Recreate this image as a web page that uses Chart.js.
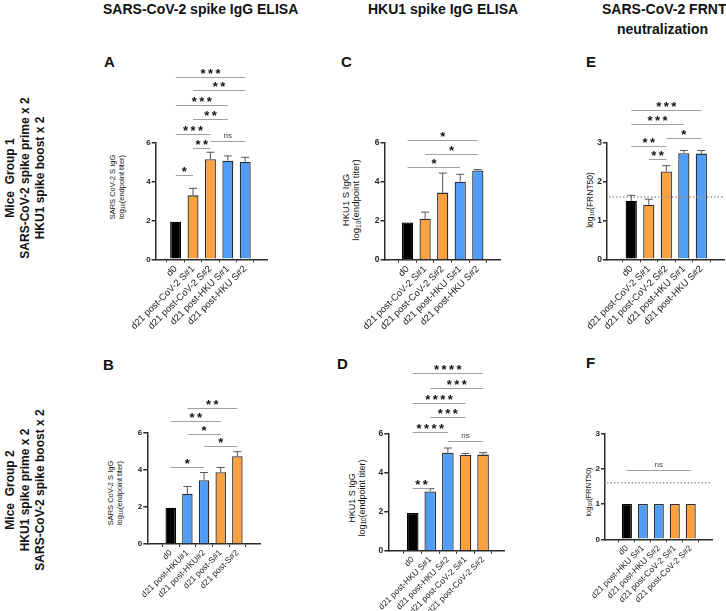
<!DOCTYPE html>
<html>
<head>
<meta charset="utf-8">
<script src="https://cdn.jsdelivr.net/npm/chart.js@4.4.1/dist/chart.umd.min.js"></script>
<style>
  html, body { margin: 0; padding: 0; background: #fff; overflow: hidden; }
  body { width: 726px; height: 611px; position: relative; font-family: 'Liberation Sans', Arial, sans-serif; color: #111; }
  canvas.panel { position: absolute; }
  .col-title { position: absolute; font-weight: bold; font-size: 14px; line-height: 14px; white-space: nowrap; }
  .letter { position: absolute; font-weight: bold; font-size: 15px; line-height: 15px; }
  .row-label { position: absolute; font-weight: bold; font-size: 12px; line-height: 15px; text-align: center; white-space: nowrap; transform: translate(-50%, -50%) rotate(-90deg); }
  .y-title { position: absolute; text-align: center; white-space: nowrap; color: #111; transform: translate(-50%, -50%) rotate(-90deg); }
  .y-title sub { font-size: 0.7em; line-height: 0; vertical-align: -0.25em; }
</style>
</head>
<body>

<div class="col-title" style="left:103px; top:2px;">SARS-CoV-2 spike IgG ELISA</div>
<div class="col-title" style="left:368px; top:2px;">HKU1 spike IgG ELISA</div>
<div class="col-title" style="left:602px; top:2px;">SARS-CoV-2 FRNT</div>
<div class="col-title" style="left:617px; top:22px;">neutralization</div>

<div class="letter" style="left:104px; top:54px;">A</div>
<div class="letter" style="left:341px; top:54px;">C</div>
<div class="letter" style="left:586px; top:54px;">E</div>
<div class="letter" style="left:103px; top:357px;">B</div>
<div class="letter" style="left:337px; top:356px;">D</div>
<div class="letter" style="left:586px; top:355px;">F</div>

<div class="row-label" style="left:25px; top:178px;">Mice&nbsp; Group 1<br>SARS-CoV-2 spike prime x 2<br>HKU1 spike boost x 2</div>
<div class="row-label" style="left:25px; top:490px;">Mice&nbsp; Group 2<br>HKU1 spike prime x 2<br>SARS-CoV-2 spike boost x 2</div>

<div class="y-title" style="left:117px; top:187px; font-size:7.5px; line-height:8.5px;">SARS CoV-2 S IgG<br>log<sub>10</sub>(endpoint titer)</div>
<div class="y-title" style="left:350.5px; top:200px; font-size:9.5px; line-height:10px;">HKU1 S IgG<br>log<sub>10</sub>(endpoint titer)</div>
<div class="y-title" style="left:590px; top:200px; font-size:8.5px; line-height:9px;">log<sub>10</sub>(FRNT50)</div>
<div class="y-title" style="left:115px; top:493px; font-size:7.5px; line-height:9px;">SARS CoV-2 S IgG<br>log<sub>10</sub>(endpoint titer)</div>
<div class="y-title" style="left:357px; top:498px; font-size:9px; line-height:9.5px;">HKU1 S IgG<br>log<sub>10</sub>(endpoint titer)</div>
<div class="y-title" style="left:588.5px; top:492px; font-size:7.5px; line-height:8px;">log<sub>10</sub>(FRNT50)</div>

<script>
// ---- data ----
const labelsGroup1 = ['d0', 'd21 post-CoV-2 S#1', 'd21 post-CoV-2 S#2', 'd21 post-HKU S#1', 'd21 post-HKU S#2'];
const labelsPanelB = ['d0', 'd21 post-HKU#1', 'd21 post-HKU#2', 'd21 post-S#1', 'd21 post-S#2'];
const labelsGroup2 = ['d0', 'd21 post-HKU S#1', 'd21 post-HKU S#2', 'd21 post-CoV-2 S#1', 'd21 post-CoV-2 S#2'];

const BLACK = '#000000';
const ORANGE = '#FDA13F';
const BLUE = '#4F9DF7';
const colorsGroup1 = [BLACK, ORANGE, ORANGE, BLUE, BLUE];
const colorsGroup2 = [BLACK, BLUE, BLUE, ORANGE, ORANGE];

// mean log10 values and upper error (SEM) per bar
const valuesA = [1.93, 3.28, 5.13, 5.06, 5.00];
const errorsA = [0, 0.36, 0.36, 0.24, 0.23];
const valuesC = [1.91, 2.10, 3.44, 4.00, 4.58];
const errorsC = [0, 0.34, 1.00, 0.38, 0.04];
const valuesE = [1.50, 1.40, 2.25, 2.72, 2.71];
const errorsE = [0.14, 0.14, 0.15, 0.07, 0.08];
const valuesB = [1.95, 2.70, 3.43, 3.86, 4.71];
const errorsB = [0, 0.39, 0.41, 0.25, 0.25];
const valuesD = [1.94, 3.05, 5.03, 4.92, 4.94];
const errorsD = [0, 0.14, 0.25, 0.08, 0.10];
const valuesF = [1, 1, 1, 1, 1];
const errorsF = [0, 0, 0, 0, 0];

// detection limit (log10 FRNT50)
const limitFRNT = 1.6;

// significance brackets: [from bar, to bar, label, height in y units]
const sigA = [[0, 1, '*', 4.32], [1, 2, '**', 5.69], [2, 4, 'ns', 6.07], [0, 2, '***', 6.44],
              [1, 3, '**', 7.19], [0, 3, '***', 7.90], [1, 4, '**', 8.67], [0, 4, '***', 9.36]];
const sigC = [[0, 3, '*', 4.74], [1, 4, '*', 5.40], [0, 4, '*', 6.12]];
const sigE = [[1, 2, '**', 2.56], [0, 2, '**', 2.91], [2, 4, '*', 3.10], [0, 3, '***', 3.46], [0, 4, '***', 3.83]];
const sigB = [[0, 2, '*', 4.16], [2, 4, '*', 5.25], [1, 3, '*', 5.93], [0, 3, '**', 6.63], [1, 4, '**', 7.32]];
const sigD = [[0, 1, '**', 3.24], [2, 4, 'ns', 5.62], [0, 2, '****', 6.10], [1, 3, '***', 6.86],
              [0, 3, '****', 7.59], [1, 4, '***', 8.35], [0, 4, '****', 9.14]];
const sigF = [[0, 4, 'ns', 1.95]];

// ---- drawing ----
const FONT = "'Liberation Sans', Arial, sans-serif";
const AXIS = '#2b2b2b';
const Y_W = 30;

function extrasPlugin(p) {
    return {
        id: 'extras',
        afterDatasetsDraw(chart) {
            const { ctx, chartArea } = chart;
            const xs = chart.scales.x;
            const ys = chart.scales.y;
            ctx.save();

            if (p.limit !== undefined) {
                const y = ys.getPixelForValue(p.limit);
                ctx.strokeStyle = '#9a9a9a';
                ctx.lineWidth = 1.5;
                ctx.setLineDash([1.5, 2]);
                ctx.beginPath();
                ctx.moveTo(chartArea.left + 2, y);
                ctx.lineTo(chartArea.right, y);
                ctx.stroke();
                ctx.setLineDash([]);
            }

            ctx.strokeStyle = '#555';
            ctx.lineWidth = 1;
            p.errors.forEach((e, i) => {
                if (!e) return;
                const x = xs.getPixelForValue(i);
                const y0 = ys.getPixelForValue(p.values[i]);
                const y1 = ys.getPixelForValue(p.values[i] + e);
                ctx.beginPath();
                ctx.moveTo(x, y0);
                ctx.lineTo(x, y1);
                ctx.moveTo(x - 4, y1);
                ctx.lineTo(x + 4, y1);
                ctx.stroke();
            });

            p.sig.forEach(([a, b, label, h]) => {
                const x1 = xs.getPixelForValue(a);
                const x2 = xs.getPixelForValue(b);
                const y = Math.round(ys.getPixelForValue(h)) + 0.5;
                ctx.strokeStyle = '#a0a0a0';
                ctx.lineWidth = 1;
                ctx.beginPath();
                ctx.moveTo(x1, y);
                ctx.lineTo(x2, y);
                ctx.stroke();

                const cx = (x1 + x2) / 2;
                ctx.textAlign = 'center';
                ctx.textBaseline = 'alphabetic';
                if (label === 'ns') {
                    ctx.fillStyle = '#444';
                    ctx.font = `8px ${FONT}`;
                    ctx.fillText(label, cx, y - 3.5);
                } else {
                    ctx.fillStyle = '#111';
                    ctx.font = `bold 13px ${FONT}`;
                    const n = label.length;
                    for (let k = 0; k < n; k++) {
                        ctx.fillText('*', cx + (k - (n - 1) / 2) * 7.5, y + 0.5);
                    }
                }
            });
            ctx.restore();
        }
    };
}

function buildPanel(p) {
    const [bx, by, bw, bh] = p.box;
    const canvas = document.createElement('canvas');
    canvas.className = 'panel';
    canvas.width = bw;
    canvas.height = bh;
    canvas.style.left = bx + 'px';
    canvas.style.top = by + 'px';
    document.body.appendChild(canvas);

    const n = p.labels.length;
    const spacing = (p.lastCenter - p.firstCenter) / (n - 1);
    const xMin = -(p.firstCenter - p.axisX) / spacing;
    const xMax = (p.axisEnd - p.firstCenter) / spacing;
    // x scale takes all room under the plot so rotated labels are not clipped
    const xH = by + bh - p.yZeroPx;

    new Chart(canvas, {
        type: 'bar',
        data: {
            datasets: [{
                data: p.values.map((v, i) => ({ x: i, y: v })),
                backgroundColor: p.colors,
                borderColor: p.colors.map(c => c === BLACK ? BLACK : '#2e2e2e'),
                borderWidth: 1.3,
                barPercentage: p.barFrac,
                categoryPercentage: 1
            }]
        },
        options: {
            responsive: false,
            animation: false,
            events: [],
            layout: {
                autoPadding: false,
                padding: {
                    left: p.axisX - bx - Y_W,
                    right: bx + bw - p.axisEnd,
                    top: p.yTopPx - by,
                    bottom: 0
                }
            },
            plugins: { legend: { display: false }, tooltip: { enabled: false } },
            scales: {
                x: {
                    type: 'linear',
                    bounds: 'data',
                    min: xMin,
                    max: xMax,
                    afterBuildTicks: s => { s.ticks = p.labels.map((_, i) => ({ value: i })); },
                    afterFit: s => { s.height = xH; },
                    border: { display: true, color: AXIS, width: 1.5 },
                    grid: { display: true, drawOnChartArea: false, drawTicks: true, tickLength: 3, color: AXIS, lineWidth: 1 },
                    ticks: {
                        autoSkip: false,
                        minRotation: 45,
                        maxRotation: 45,
                        padding: 1,
                        color: '#222',
                        font: { family: FONT, size: p.xFont },
                        callback: v => p.labels[v]
                    }
                },
                y: {
                    min: 0,
                    max: p.yMax,
                    afterFit: s => { s.width = Y_W; },
                    border: { display: true, color: AXIS, width: 1.5 },
                    grid: { display: true, drawOnChartArea: false, drawTicks: true, tickLength: 4, color: AXIS, lineWidth: 1.5 },
                    ticks: {
                        stepSize: p.yStep,
                        padding: 1,
                        color: '#222',
                        font: { family: FONT, size: p.yFont, weight: 'bold' }
                    }
                }
            }
        },
        plugins: [extrasPlugin(p)]
    });
}

document.addEventListener('DOMContentLoaded', () => {
    const panels = [
        { box: [120, 60, 155, 285], axisX: 155.7, firstCenter: 166.7, lastCenter: 253.7, axisEnd: 267, yTopPx: 142.3, yZeroPx: 259.3,
          labels: labelsGroup1, values: valuesA, errors: errorsA, colors: colorsGroup1, sig: sigA, yMax: 6, yStep: 2, barFrac: 0.63, xFont: 9.5, yFont: 8 },
        { box: [350, 60, 156, 285], axisX: 384.5, firstCenter: 398.9, lastCenter: 486.7, axisEnd: 500, yTopPx: 142.7, yZeroPx: 259.7,
          labels: labelsGroup1, values: valuesC, errors: errorsC, colors: colorsGroup1, sig: sigC, yMax: 6, yStep: 2, barFrac: 0.64, xFont: 9.5, yFont: 8.5 },
        { box: [572, 60, 154, 285], axisX: 607, firstCenter: 622.7, lastCenter: 710.3, axisEnd: 724, yTopPx: 142.3, yZeroPx: 259.3,
          labels: labelsGroup1, values: valuesE, errors: errorsE, colors: colorsGroup1, sig: sigE, yMax: 3, yStep: 1, barFrac: 0.64, xFont: 9.5, yFont: 8.5, limit: limitFRNT },
        { box: [112, 352, 154, 259], axisX: 147.3, firstCenter: 162.5, lastCenter: 245.8, axisEnd: 260, yTopPx: 432.3, yZeroPx: 544,
          labels: labelsPanelB, values: valuesB, errors: errorsB, colors: colorsGroup2, sig: sigB, yMax: 6, yStep: 2, barFrac: 0.63, xFont: 8.5, yFont: 8 },
        { box: [354, 352, 156, 259], axisX: 388.3, firstCenter: 404.3, lastCenter: 492.3, axisEnd: 504, yTopPx: 434, yZeroPx: 550.7,
          labels: labelsGroup2, values: valuesD, errors: errorsD, colors: colorsGroup2, sig: sigD, yMax: 6, yStep: 2, barFrac: 0.66, xFont: 8.5, yFont: 8.5 },
        { box: [570, 352, 156, 259], axisX: 605, firstCenter: 619, lastCenter: 698.8, axisEnd: 712, yTopPx: 433.3, yZeroPx: 539.3,
          labels: labelsGroup2, values: valuesF, errors: errorsF, colors: colorsGroup2, sig: sigF, yMax: 3, yStep: 1, barFrac: 0.63, xFont: 8.5, yFont: 8, limit: limitFRNT }
    ];
    panels.forEach(buildPanel);
});
</script>
</body>
</html>
